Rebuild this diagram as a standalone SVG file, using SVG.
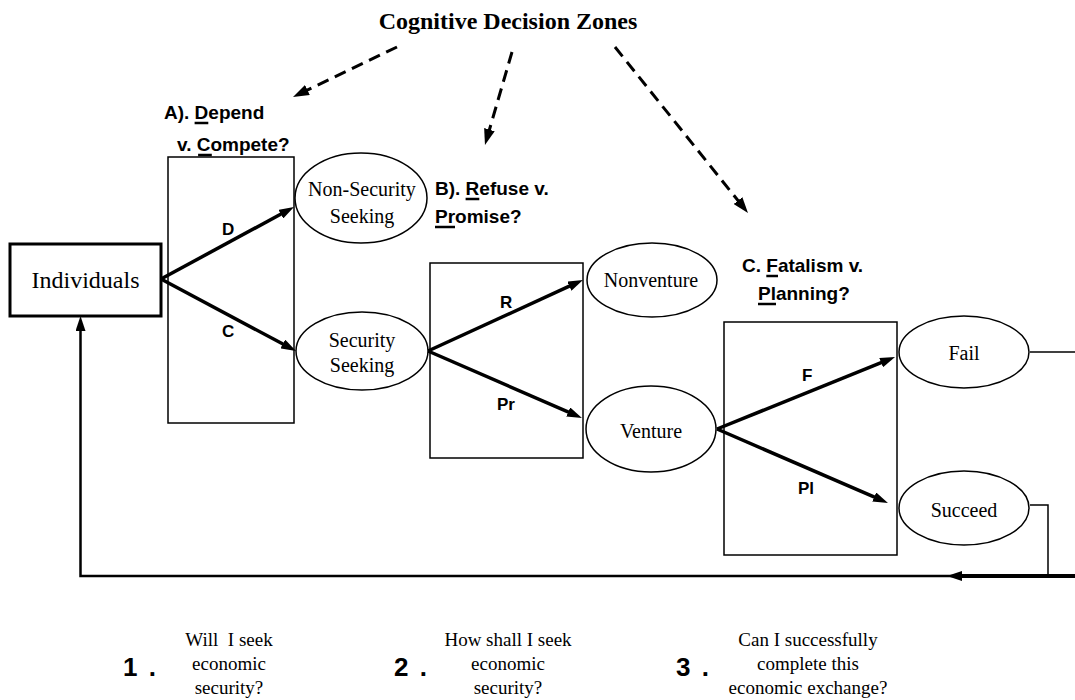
<svg xmlns="http://www.w3.org/2000/svg" width="1075" height="700" viewBox="0 0 1075 700">
<style>
.serif{font-family:"Liberation Serif","Times New Roman",serif;fill:#000}
.sans{font-family:"Liberation Sans",Arial,sans-serif;font-weight:bold;fill:#000}
.node{fill:#fff;stroke:#000;stroke-width:1.5}
.zone{fill:none;stroke:#000;stroke-width:1.5}
.thick{fill:none;stroke:#000;stroke-width:3.5;marker-end:url(#ah)}
.dash{fill:none;stroke:#000;stroke-width:3;stroke-dasharray:12 7;marker-end:url(#ahd)}
.thin{fill:none;stroke:#000;stroke-width:1.5}
.ul{stroke:#000;stroke-width:2.5}
.et{font-size:20px;text-anchor:middle}
.lbl{font-size:19px}
.q{font-size:19px;text-anchor:middle}
.num{font-size:26px}
</style>
<defs>
<marker id="ah" markerUnits="userSpaceOnUse" viewBox="0 0 15 10" markerWidth="15" markerHeight="10" refX="6" refY="5" orient="auto"><path d="M0,0 L15,5 L0,10 z" fill="#000"/></marker>
<marker id="ahd" markerUnits="userSpaceOnUse" viewBox="0 0 16 11" markerWidth="16" markerHeight="11" refX="8" refY="5.5" orient="auto"><path d="M0,0 L16,5.5 L0,11 z" fill="#000"/></marker>
</defs>
<rect width="1075" height="700" fill="#fff"/>

<g id="title"><text class="serif" x="508" y="29" font-size="24" font-weight="bold" text-anchor="middle">Cognitive Decision Zones</text></g>

<g id="zoneA">
<rect class="zone" x="168" y="157" width="126" height="266"/>
<text class="sans lbl" x="164" y="119">A). Depend</text>
<line class="ul" x1="194.6" y1="123" x2="208.3" y2="123"/>
<text class="sans lbl" x="177" y="151">v. Compete?</text>
<line class="ul" x1="198.1" y1="155" x2="211.8" y2="155"/>
</g>
<g id="zoneB">
<rect class="zone" x="430" y="263" width="153" height="195"/>
<text class="sans lbl" x="435" y="195">B). Refuse v.</text>
<line class="ul" x1="465.6" y1="199" x2="479.3" y2="199"/>
<text class="sans lbl" x="435" y="223">Promise?</text>
<line class="ul" x1="435" y1="227" x2="455" y2="227"/>
</g>
<g id="zoneC">
<rect class="zone" x="724" y="322" width="173" height="233"/>
<text class="sans lbl" x="742" y="272">C. Fatalism v.</text>
<line class="ul" x1="766.3" y1="276" x2="778" y2="276"/>
<text class="sans lbl" x="758" y="300">Planning?</text>
<line class="ul" x1="758" y1="304" x2="776" y2="304"/>
</g>

<g id="connectors">
<line class="dash" x1="397" y1="47" x2="300.2" y2="93.5"/>
<line class="dash" x1="512" y1="52" x2="487.2" y2="137.3"/>
<line class="dash" x1="615" y1="47" x2="743" y2="206.8"/>
<line class="thick" x1="161" y1="279" x2="286.1" y2="211.3"/>
<line class="thick" x1="161" y1="279" x2="288.1" y2="346.8"/>
<line class="thick" x1="428" y1="351" x2="574.8" y2="283.7"/>
<line class="thick" x1="428" y1="351" x2="573.7" y2="414.4"/>
<line class="thick" x1="717" y1="429" x2="886.7" y2="360.4"/>
<line class="thick" x1="717" y1="429" x2="879.7" y2="499.4"/>
<path class="thin" d="M1030,352 H1076"/>
<path class="thin" d="M1030,505 H1048 V576"/>
<path d="M1076,576 H956" fill="none" stroke="#000" stroke-width="4" marker-end="url(#ah)"/>
<path d="M956,576 H80.5 V325" fill="none" stroke="#000" stroke-width="2.5" marker-end="url(#ah)"/>
<text class="sans" x="222" y="235" font-size="17">D</text>
<text class="sans" x="222" y="337" font-size="17">C</text>
<text class="sans" x="500" y="308" font-size="17">R</text>
<text class="sans" x="497" y="410" font-size="17">Pr</text>
<text class="sans" x="802" y="381" font-size="17">F</text>
<text class="sans" x="798" y="494" font-size="17">Pl</text>
</g>

<g id="individuals">
<rect x="10" y="244" width="151" height="72" fill="#fff" stroke="#000" stroke-width="3"/>
<text class="serif" x="85.5" y="288" font-size="24" text-anchor="middle">Individuals</text>
</g>
<g id="nonsecurity">
<ellipse class="node" cx="361" cy="198" rx="66" ry="45"/>
<text class="serif et" x="362" y="196">Non-Security</text>
<text class="serif et" x="362" y="223">Seeking</text>
</g>
<g id="security">
<ellipse class="node" cx="362" cy="351" rx="66" ry="39"/>
<text class="serif et" x="362" y="347">Security</text>
<text class="serif et" x="362" y="372">Seeking</text>
</g>
<g id="nonventure">
<ellipse class="node" cx="652" cy="280" rx="65" ry="37"/>
<text class="serif et" x="651" y="287">Nonventure</text>
</g>
<g id="venture">
<ellipse class="node" cx="651" cy="429" rx="65" ry="43"/>
<text class="serif et" x="651" y="438">Venture</text>
</g>
<g id="fail">
<ellipse class="node" cx="964" cy="352" rx="65" ry="36"/>
<text class="serif et" x="964" y="360">Fail</text>
</g>
<g id="succeed">
<ellipse class="node" cx="964" cy="508" rx="65" ry="37"/>
<text class="serif et" x="964" y="517">Succeed</text>
</g>

<g id="question1">
<text class="sans num" x="123" y="676" letter-spacing="2">1 .</text>
<text class="serif q" x="229" y="646" xml:space="preserve">Will  I seek</text>
<text class="serif q" x="229" y="670">economic</text>
<text class="serif q" x="229" y="694">security?</text>
</g>
<g id="question2">
<text class="sans num" x="394" y="676" letter-spacing="2">2 .</text>
<text class="serif q" x="508" y="646">How shall I seek</text>
<text class="serif q" x="508" y="670">economic</text>
<text class="serif q" x="508" y="694">security?</text>
</g>
<g id="question3">
<text class="sans num" x="676" y="676" letter-spacing="2">3 .</text>
<text class="serif q" x="808" y="646">Can I successfully</text>
<text class="serif q" x="808" y="670">complete this</text>
<text class="serif q" x="808" y="694">economic exchange?</text>
</g>
</svg>
